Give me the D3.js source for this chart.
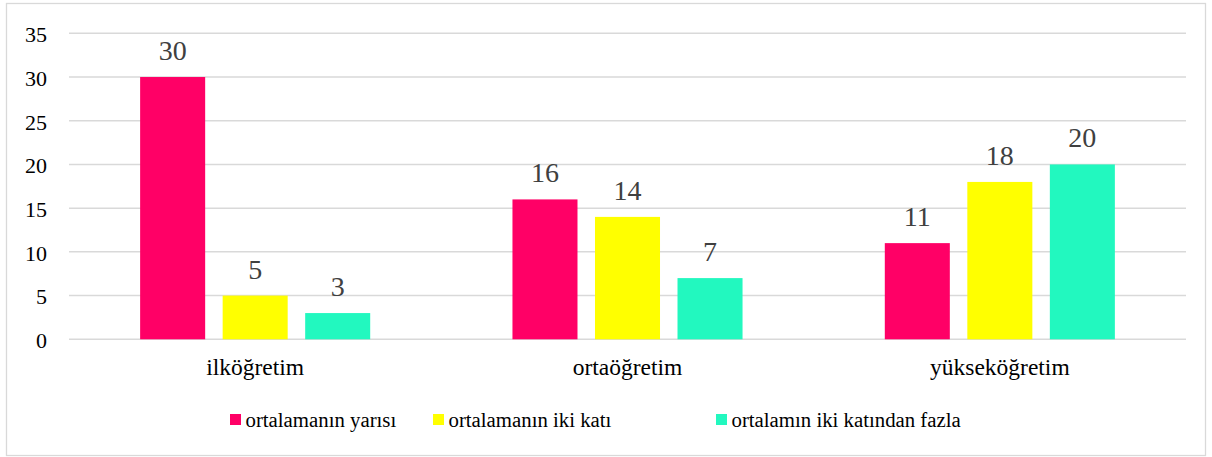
<!DOCTYPE html>
<html>
<head>
<meta charset="utf-8">
<script src="https://cdn.jsdelivr.net/npm/d3@7"></script>
<style>
  body { margin: 0; background: #fff; }
</style>
</head>
<body>
<div id="plot"></div>
<script>
var categories = ["ilköğretim", "ortaöğretim", "yükseköğretim"];
var seriesNames = ["ortalamanın yarısı", "ortalamanın iki katı", "ortalamın iki katından fazla"];
var seriesColors = ["#FF0066", "#FFFF00", "#22F8BF"];
var values = [
  [30, 16, 11],   // ortalamanın yarısı
  [5, 14, 18],    // ortalamanın iki katı
  [3, 7, 20]      // ortalamın iki katından fazla
];
var yTicks = [0, 5, 10, 15, 20, 25, 30, 35];

var fontSerif = "'Liberation Serif', 'Times New Roman', serif";

var svg = d3.select("div#plot")
  .append("svg")
  .attr("width", 1212)
  .attr("height", 457);

// outer chart border
svg.append("rect")
  .attr("x", 6.5)
  .attr("y", 3.5)
  .attr("width", 1199)
  .attr("height", 452)
  .attr("fill", "white")
  .attr("stroke", "#D9D9D9")
  .attr("stroke-width", 1.3);

var margin = {top: 33.3, left: 69, right: 26, bottom: 117.7};
var width = 1212 - margin.left - margin.right;
var height = 457 - margin.top - margin.bottom;
var g = svg.append("g").attr("transform", `translate(${margin.left}, ${margin.top})`);

var x0 = d3.scaleBand().domain(categories).range([0, width]).padding(0);
var x1 = d3.scaleBand().domain(d3.range(seriesNames.length))
  .range([0, x0.bandwidth()])
  .paddingInner(0.212)
  .paddingOuter(0.862);
var yScale = d3.scaleLinear().domain([0, 35]).range([height, 0]);

// gridlines
g.append("g")
  .selectAll("line")
  .data(yTicks)
  .join("line")
  .attr("x1", 0)
  .attr("x2", width)
  .attr("y1", d => yScale(d))
  .attr("y2", d => yScale(d))
  .attr("stroke", "#D9D9D9")
  .attr("stroke-width", 1.5);

// y axis labels
var yAxis = g.append("g")
  .call(d3.axisLeft(yScale).tickValues(yTicks).tickSize(0).tickPadding(22));
yAxis.select(".domain").remove();
yAxis.selectAll("text")
  .attr("dy", "0.38em")
  .style("font-family", fontSerif)
  .style("font-size", "22px")
  .attr("fill", "#000");

// bars
var groups = g.selectAll("g.grp")
  .data(categories)
  .join("g")
  .attr("class", "grp")
  .attr("transform", d => `translate(${x0(d)}, 0)`);

groups.each(function(cat, ci) {
  var grp = d3.select(this);
  seriesNames.forEach(function(s, si) {
    var v = values[si][ci];
    grp.append("rect")
      .attr("x", x1(si))
      .attr("y", yScale(v))
      .attr("width", x1.bandwidth())
      .attr("height", yScale(0) - yScale(v))
      .attr("fill", seriesColors[si]);
    grp.append("text")
      .attr("x", x1(si) + x1.bandwidth() / 2)
      .attr("y", yScale(v) - 17)
      .attr("text-anchor", "middle")
      .style("font-family", fontSerif)
      .style("font-size", "28px")
      .attr("fill", "#404040")
      .text(v);
  });
});

// x axis labels
var xAxis = g.append("g")
  .attr("transform", `translate(0, ${height})`)
  .call(d3.axisBottom(x0).tickSize(0).tickPadding(19));
xAxis.select(".domain").remove();
xAxis.selectAll("text")
  .style("font-family", fontSerif)
  .style("font-size", "23.5px")
  .attr("fill", "#000");

// legend
var legendX = [230, 433, 716];
var legend = svg.append("g");
seriesNames.forEach(function(s, i) {
  legend.append("rect")
    .attr("x", legendX[i])
    .attr("y", 414)
    .attr("width", 11)
    .attr("height", 11)
    .attr("fill", seriesColors[i]);
  legend.append("text")
    .attr("x", legendX[i] + 15.5)
    .attr("y", 427)
    .style("font-family", fontSerif)
    .style("font-size", "20.8px")
    .attr("fill", "#000")
    .text(s);
});
</script>
</body>
</html>
